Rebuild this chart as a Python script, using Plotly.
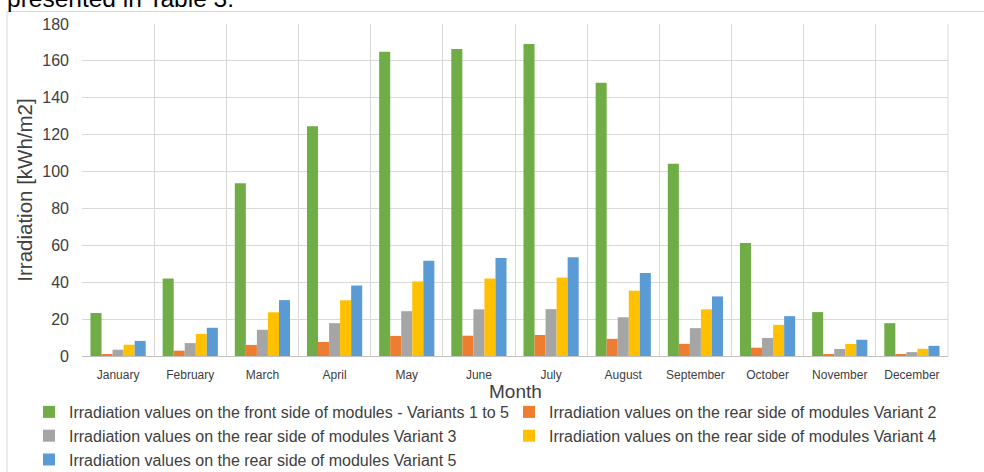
import plotly.graph_objects as go

months = ["January", "February", "March", "April", "May", "June", "July",
          "August", "September", "October", "November", "December"]
front = [23.3, 42.0, 93.6, 124.5, 164.9, 166.5, 169.2, 148.2, 104.2, 61.2, 23.8, 17.8]
rear_v2 = [1.1, 2.9, 6.0, 7.6, 10.9, 11.0, 11.4, 9.3, 6.6, 4.5, 1.1, 0.7]
rear_v3 = [3.4, 7.0, 14.2, 17.8, 24.3, 25.3, 25.4, 21.0, 15.1, 9.8, 3.8, 2.1]
rear_v4 = [6.1, 12.0, 23.7, 30.2, 40.4, 42.0, 42.5, 35.4, 25.3, 16.9, 6.5, 3.9]
rear_v5 = [8.2, 15.3, 30.3, 38.2, 51.6, 53.2, 53.6, 45.0, 32.3, 21.6, 8.8, 5.5]

series = [
    ("Irradiation values on the front side of modules - Variants 1 to 5", front, "#70ad47", "legend"),
    ("Irradiation values on the rear side of modules Variant 2", rear_v2, "#ed7d31", "legend2"),
    ("Irradiation values on the rear side of modules Variant 3", rear_v3, "#a5a5a5", "legend"),
    ("Irradiation values on the rear side of modules Variant 4", rear_v4, "#ffc000", "legend2"),
    ("Irradiation values on the rear side of modules Variant 5", rear_v5, "#5b9bd5", "legend"),
]

FONT = "Liberation Sans, Arial, sans-serif"
TXT = "#404040"

fig = go.Figure()
for name, vals, col, lg in series:
    fig.add_trace(go.Bar(x=months, y=vals, name=name, marker_color=col,
                         marker_line_width=0, legend=lg))

W, H = 984, 472
ml, mr, mt, mb = 82, 36, 24, 116
pw, ph = W - ml - mr, H - mt - mb

def px_x(px):
    return (px - ml) / pw

def px_y(py):
    return (H - mb - py) / ph

leg_common = dict(orientation="v", yanchor="top", xanchor="left", yref="container",
                  font=dict(size=16, color=TXT, family=FONT),
                  itemwidth=30, tracegroupgap=0, bgcolor="rgba(0,0,0,0)",
                  borderwidth=0)

fig.update_layout(
    width=W, height=H,
    margin=dict(l=ml, r=mr, t=mt, b=mb, autoexpand=False),
    paper_bgcolor="white", plot_bgcolor="white",
    barmode="group", bargap=0.235, bargroupgap=0,
    font=dict(family=FONT, color=TXT),
    showlegend=True,
    legend=dict(x=px_x(29), y=1 - 395 / H, **leg_common),
    legend2=dict(x=px_x(509), y=1 - 395 / H, **leg_common),
    xaxis=dict(type="category", tickson="boundaries", showgrid=True, gridcolor="#d9d9d9",
               gridwidth=1, ticks="", showline=True, linecolor="#bfbfbf", linewidth=1,
               ticklabelstandoff=8, automargin=False,
               tickfont=dict(size=12, color=TXT, family=FONT),
               range=[-0.5, 11.5]),
    yaxis=dict(range=[0, 180], dtick=20, showgrid=True, gridcolor="#d9d9d9", gridwidth=1,
               zeroline=False, showline=False, ticks="", automargin=False,
               ticklabelstandoff=12,
               tickfont=dict(size=16, color=TXT, family=FONT),
               title=dict(text="Irradiation [kWh/m2]",
                          font=dict(size=20.5, color=TXT, family=FONT), standoff=4)),
)

# x-axis title
fig.add_annotation(text="Month", xref="paper", yref="paper", x=0.5, y=px_y(391),
                   xanchor="center", yanchor="middle", showarrow=False,
                   font=dict(size=19, color=TXT, family=FONT))

# right border gridline of the plot area
fig.add_shape(type="line", xref="paper", yref="paper", x0=1, x1=1, y0=0, y1=1,
              line=dict(color="#d9d9d9", width=1), layer="below")
# outer chart frame
fig.add_shape(type="rect", xref="paper", yref="paper",
              x0=px_x(7), x1=px_x(1000), y0=px_y(490), y1=px_y(11.5),
              line=dict(color="#d9d9d9", width=1), fillcolor="rgba(0,0,0,0)", layer="below")
# caption text above the chart (partially cut off in the reference)
fig.add_annotation(text="presented in Table 3.", xref="paper", yref="paper",
                   x=px_x(5), y=1, xanchor="left", yanchor="bottom", yshift=10,
                   showarrow=False, font=dict(size=24.5, color="#000000", family=FONT))

fig.write_html("out.html", config={"displayModeBar": False},
               post_script="document.body.style.margin='0';")
